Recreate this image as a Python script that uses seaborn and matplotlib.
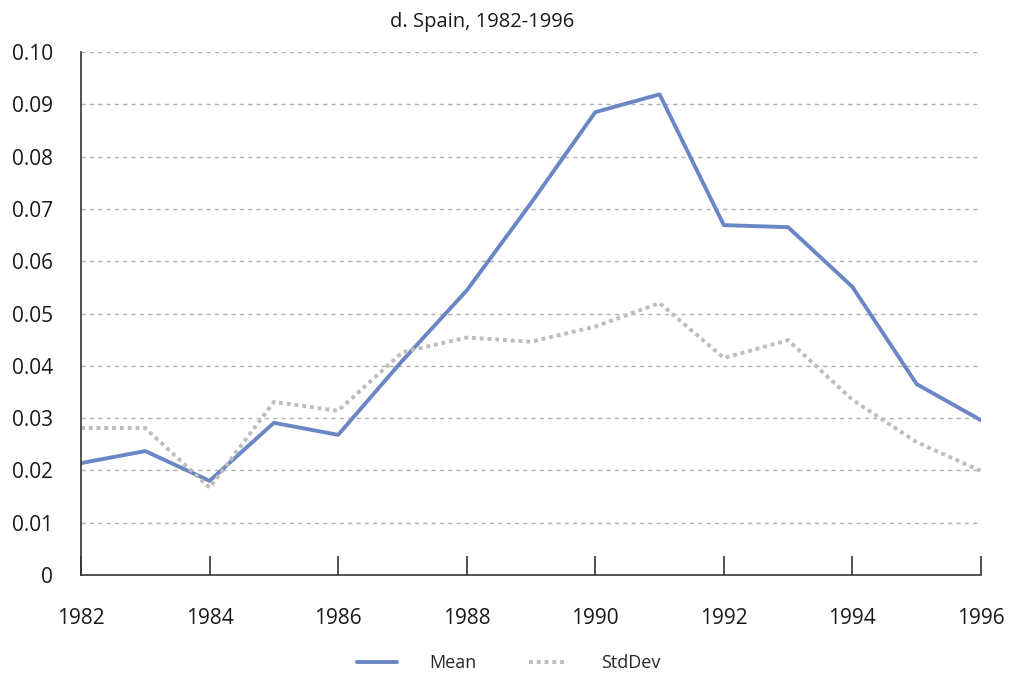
import pandas as pd
import seaborn as sns
import numpy as np
import matplotlib.pyplot as plt

# ===== data =====
years = list(range(1982, 1997))
mean_vals = [0.0214, 0.0237, 0.0180, 0.0291, 0.0268, 0.0410, 0.0544, 0.0711, 0.0885,
             0.0919, 0.0669, 0.0665, 0.0551, 0.0365, 0.0296]
std_vals = [0.0281, 0.0281, 0.0167, 0.0331, 0.0314, 0.0426, 0.0454, 0.0446, 0.0475,
            0.0520, 0.0415, 0.0449, 0.0335, 0.0254, 0.0199]
series_names = ['Mean', 'StdDev']
x_ticks = list(range(1982, 1997, 2))
y_ticks = [0, 0.01, 0.02, 0.03, 0.04, 0.05, 0.06, 0.07, 0.08, 0.09, 0.10]
y_ticklabels = ['0', '0.01', '0.02', '0.03', '0.04', '0.05', '0.06', '0.07', '0.08', '0.09', '0.10']
title = 'd. Spain, 1982-1996'

df = pd.DataFrame({
    'Year': years * 2,
    'Value': mean_vals + std_vals,
    'Series': [series_names[0]] * len(years) + [series_names[1]] * len(years),
})

sns.set_style('white')
plt.rcParams['font.family'] = ['Open Sans', 'DejaVu Sans']

fig = plt.figure(figsize=(10.09, 6.75), dpi=100)
ax = fig.add_axes([0.0803, 0.1481, 0.8919, 0.7749])

palette = {'Mean': '#6b86c4', 'StdDev': '#bdbdbd'}
dashes = {'Mean': '', 'StdDev': (1, 1)}
sns.lineplot(data=df, x='Year', y='Value', hue='Series', style='Series',
             palette=palette, dashes=dashes, linewidth=2.8, ax=ax, legend=False)

# grid
for y in y_ticks[1:]:
    ax.axhline(y, color='#b0b0b0', linestyle=(0, (3, 3)), linewidth=1, zorder=0)

ax.set_xlim(1982, 1996)
ax.set_ylim(0, 0.10)
ax.set_xticks(x_ticks)
ax.set_xticklabels([str(x) for x in x_ticks])
ax.set_yticks(y_ticks)
ax.set_yticklabels(y_ticklabels)
ax.tick_params(axis='x', bottom=True, direction='in', length=14, width=1.2, color='#333333',
               pad=24, labelsize=15, labelcolor='#1a1a1a')
ax.tick_params(axis='y', left=False, length=0, pad=20, labelsize=15, labelcolor='#1a1a1a')
for lab in ax.get_yticklabels():
    lab.set_horizontalalignment('right')

for s in ['top', 'right']:
    ax.spines[s].set_visible(False)
for s in ['left', 'bottom']:
    ax.spines[s].set_color('#333333')
    ax.spines[s].set_linewidth(1.2)

ax.set_xlabel('')
ax.set_ylabel('')
fig.text(0.478, 0.967, title, ha='center', va='center', fontsize=14.5, color='#1a1a1a')

handles = [plt.Line2D([], [], color=palette['Mean'], linewidth=2.8),
           plt.Line2D([], [], color=palette['StdDev'], linewidth=2.8, dashes=(1, 1))]
fig.legend(handles, series_names, loc='center', bbox_to_anchor=(0.504, 0.018),
           ncol=2, frameon=False, fontsize=13, handlelength=2.2,
           handletextpad=1.8, columnspacing=2.9)

plt.savefig('out.png', dpi=100)
